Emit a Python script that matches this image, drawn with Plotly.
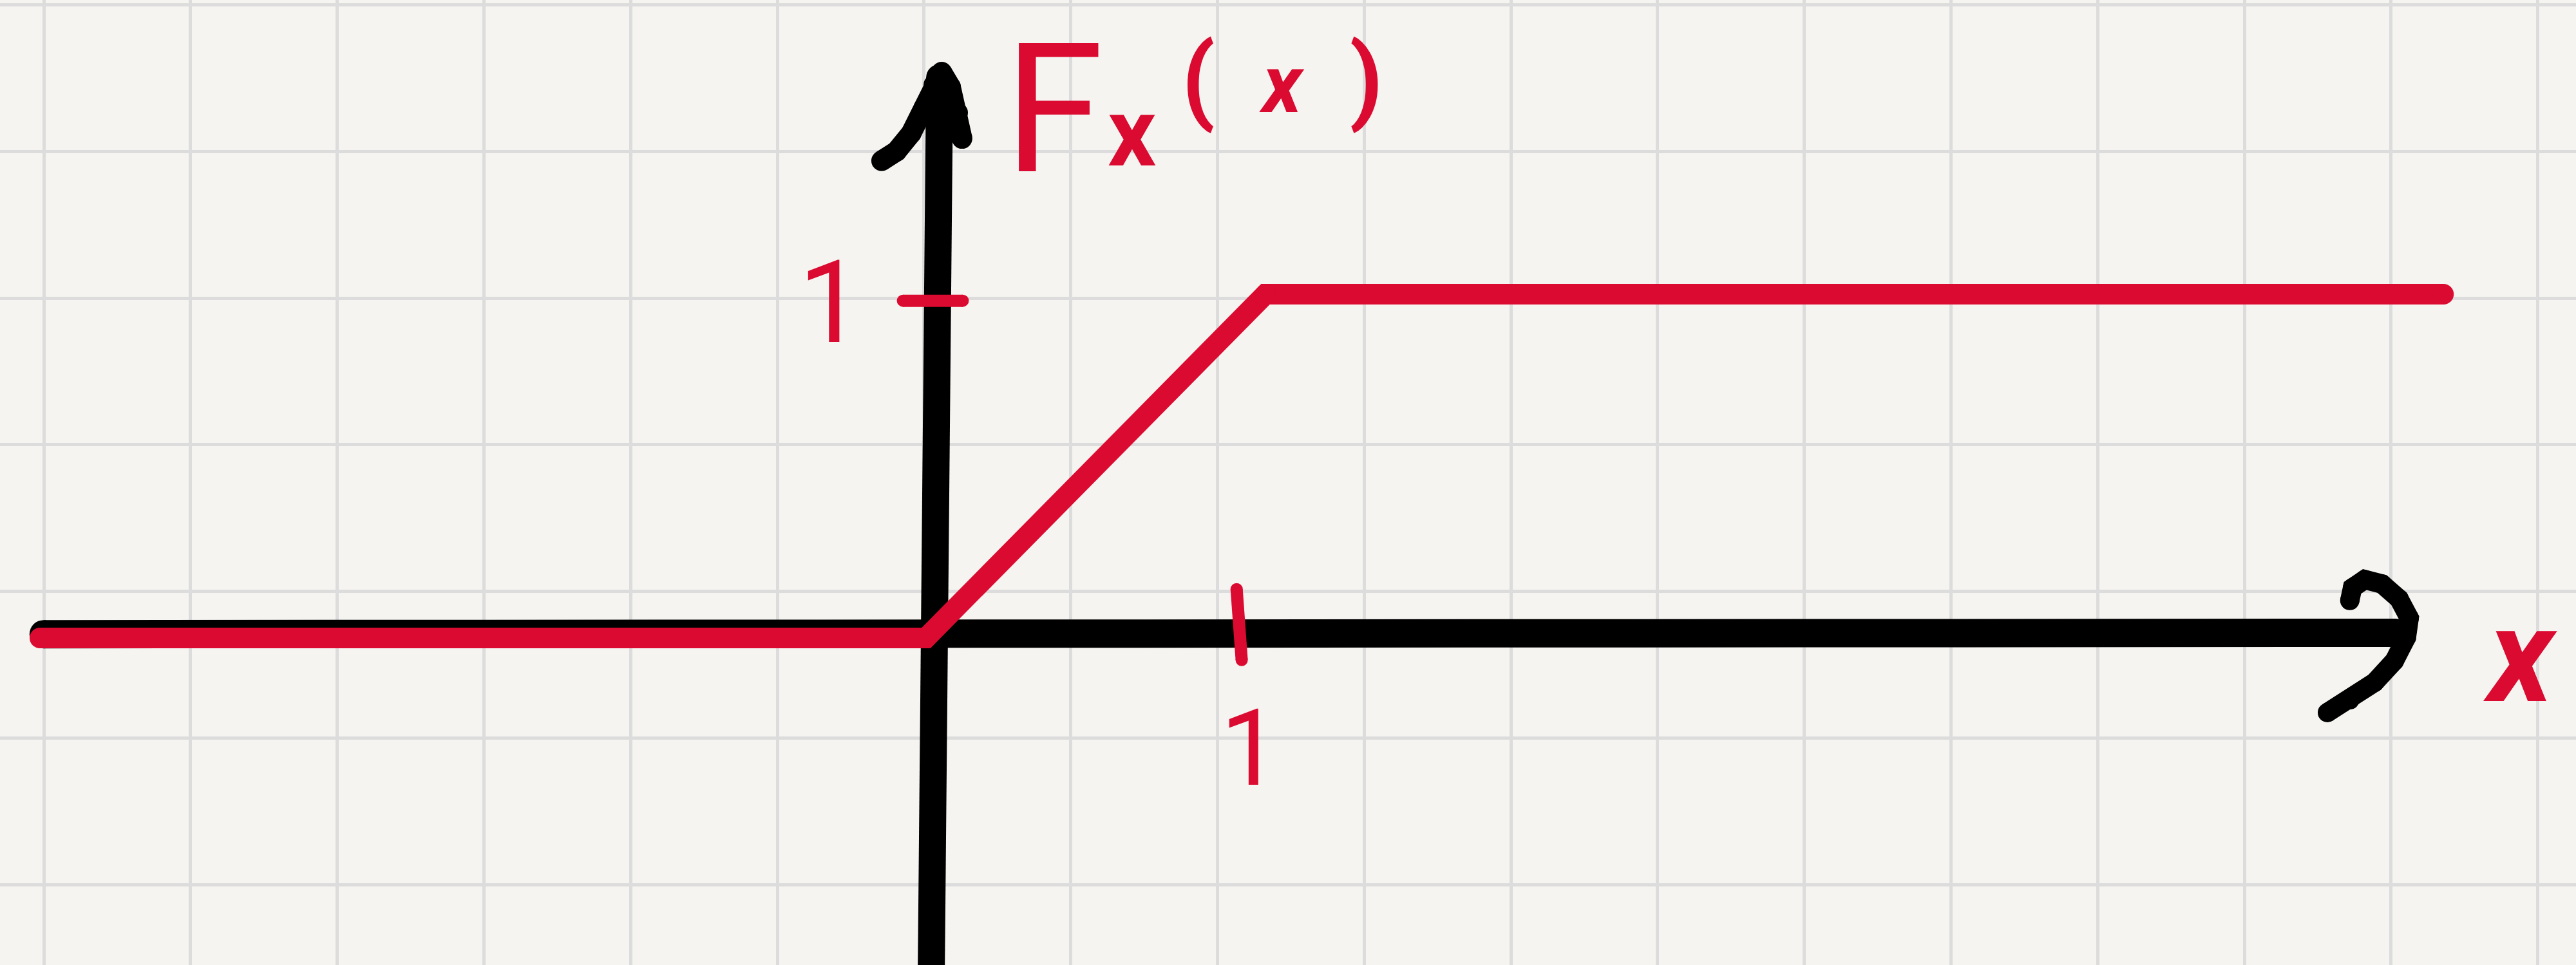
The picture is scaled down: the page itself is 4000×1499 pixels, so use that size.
import plotly.graph_objects as go

# CDF of a uniform(0, 1) variable, sketched on squared paper
cdf_x = [-2.611, 0.0, 1.0, 4.471]
cdf_y = [0.0, 0.0, 1.0, 1.0]

# black axes (hand drawn)
x_axis_x = [-2.600, 4.330]
x_axis_y = [0.011, 0.015]
y_axis_x = [0.040, 0.015]
y_axis_y = [1.630, -1.000]

# arrow heads
y_arrow_x = [-0.131, -0.087, -0.044, -0.006, 0.023, 0.046, 0.072, 0.093, 0.106]
y_arrow_y = [1.388, 1.416, 1.468, 1.543, 1.609, 1.646, 1.603, 1.528, 1.453]
x_arrow_x = [4.195, 4.203, 4.239, 4.290, 4.340, 4.370, 4.362, 4.326, 4.268, 4.195, 4.129]
x_arrow_y = [0.109, 0.146, 0.170, 0.157, 0.114, 0.058, 0.002, -0.067, -0.129, -0.180, -0.217]

# tick marks at 1
ytick_x = [-0.068, 0.108]
ytick_y = [0.981, 0.981]
xtick_x = [0.915, 0.930]
xtick_y = [0.142, -0.064]

# labels
tick_labels = ['1', '1']
tick_label_x = [-0.281, 0.956]
tick_label_y = [0.976, -0.322]
tick_label_size = [178, 165]

RED = '#db0a30'
BLACK = '#000000'
BG = '#f5f4f0'
GRID = '#dcdcdc'
FONT = 'Roboto'


def stroke(x, y, color, width):
    """one pen stroke, markers give the round ends"""
    return go.Scatter(
        x=x, y=y, mode='lines+markers',
        line=dict(color=color, width=width),
        marker=dict(color=color, size=width, line=dict(width=0)),
        hoverinfo='skip', showlegend=False
    )


fig = go.Figure()

fig.add_trace(stroke(x_axis_x, x_axis_y, BLACK, 44))
fig.add_trace(stroke(y_axis_x, y_axis_y, BLACK, 42))
fig.add_trace(stroke(y_arrow_x, y_arrow_y, BLACK, 32))
fig.add_trace(stroke(x_arrow_x, x_arrow_y, BLACK, 30))
fig.add_trace(stroke(cdf_x, cdf_y, RED, 32))
fig.add_trace(stroke(ytick_x, ytick_y, RED, 19))
fig.add_trace(stroke(xtick_x, xtick_y, RED, 19))

for label, lx, ly, size in zip(tick_labels, tick_label_x, tick_label_y, tick_label_size):
    fig.add_annotation(x=lx, y=ly, text=label, showarrow=False,
                       font=dict(color=RED, size=size, family=FONT),
                       xanchor='center', yanchor='middle')

# F_x(x) title
fig.add_annotation(x=0.376, y=1.5375, text='F', showarrow=False,
                   font=dict(color=RED, size=280, family=FONT),
                   xanchor='center', yanchor='middle')
fig.add_annotation(x=0.607, y=1.469, text='x', showarrow=False,
                   font=dict(color=RED, size=148, family=FONT, weight='bold'),
                   xanchor='center', yanchor='middle')
fig.add_annotation(x=1.051, y=1.625,
                   text='(&nbsp; <span style="font-size:125px"><i>x</i></span> &nbsp;)',
                   showarrow=False,
                   font=dict(color=RED, size=148, family=FONT, weight='bold'),
                   xanchor='center', yanchor='middle')

# axis name
fig.add_annotation(x=4.697, y=-0.0524, text='<i>x</i>', showarrow=False,
                   font=dict(color=RED, size=205, family=FONT, weight='bold'),
                   xanchor='center', yanchor='middle')

fig.update_xaxes(
    range=[-2.72865, 4.86148],
    showgrid=True, gridcolor=GRID, gridwidth=5,
    tick0=-2.5996, dtick=0.43226,
    showticklabels=False, zeroline=False, showline=False, ticks=''
)
fig.update_yaxes(
    range=[-0.95131, 1.85581],
    showgrid=True, gridcolor=GRID, gridwidth=5,
    tick0=0.98876, dtick=0.42659,
    showticklabels=False, zeroline=False, showline=False, ticks=''
)

fig.update_layout(
    width=4000, height=1499,
    margin=dict(l=0, r=0, t=0, b=0),
    paper_bgcolor=BG, plot_bgcolor=BG,
    showlegend=False
)

# page has a default 8px body margin, drop it so the sheet fills the window
fig.write_html("out.html", config={'displayModeBar': False},
               post_script="document.body.style.margin='0px';")
